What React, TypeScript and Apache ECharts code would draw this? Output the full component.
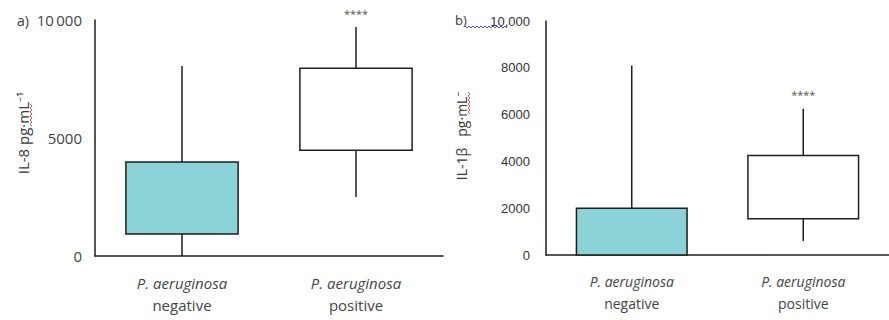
import React, { useEffect, useRef } from "react";
import * as echarts from "echarts";

const categories = ["negative", "positive"];
// [min, Q1, Q3, max]
const il8Box = [
  [0, 930, 3980, 8050],
  [2500, 4480, 7960, 9700],
];
const il1bBox = [
  [0, 0, 2000, 8100],
  [600, 1550, 4250, 6250],
];
const stars = ["", "****"];
const boxFills = ["#8bd3d6", "#ffffff"];
const il8Ticks = { min: 0, max: 10000, interval: 5000 };
const il1bTicks = { min: 0, max: 10000, interval: 2000 };

const FONT = "'Open Sans', 'Noto Sans', sans-serif";

function renderItem(params: any, api: any) {
  const c = api.value(0);
  const idx = params.dataIndex;
  const mn = api.coord([c, api.value(1)]);
  const q1 = api.coord([c, api.value(2)]);
  const q3 = api.coord([c, api.value(3)]);
  const mx = api.coord([c, api.value(4)]);
  const w = api.size([1, 0])[0] * 0.645;
  const stroke = { stroke: "#1e1e1e", lineWidth: 1.5 };
  const children: any[] = [
    { type: "line", shape: { x1: mx[0], y1: mx[1], x2: q3[0], y2: q3[1] }, style: stroke },
    { type: "line", shape: { x1: mn[0], y1: mn[1], x2: q1[0], y2: q1[1] }, style: stroke },
    {
      type: "rect",
      shape: { x: q3[0] - w / 2, y: q3[1], width: w, height: q1[1] - q3[1] },
      style: { fill: boxFills[idx], ...stroke },
    },
  ];
  if (stars[idx]) {
    children.push({
      type: "text",
      x: mx[0],
      y: mx[1] - 14,
      style: {
        text: stars[idx],
        fill: "#555",
        font: `11px ${FONT}`,
        textAlign: "center",
        textVerticalAlign: "middle",
      },
    });
  }
  return { type: "group", children };
}

function toData(box: number[][]) {
  return box.map((b, i) => [i, ...b]);
}

function xLabel(size: number, margin: number) {
  return {
    formatter: (v: string) => `{i|P. aeruginosa}\n{n|${v}}`,
    margin,
    color: "#444",
    rich: {
      i: { fontStyle: "italic", fontSize: size, fontFamily: FONT, color: "#444", lineHeight: 22 },
      n: { fontSize: size, fontFamily: FONT, color: "#444", lineHeight: 22 },
    },
  };
}

// spell-check squiggle decoration
function squiggle(x0: number, y0: number, len: number, vertical: boolean) {
  const pts: number[][] = [];
  for (let i = 0; i <= len; i += 2) {
    const off = (i / 2) % 2 === 0 ? 0 : 2;
    pts.push(vertical ? [x0 + off, y0 + i] : [x0 + i, y0 + off]);
  }
  return pts;
}

export default function App() {
  const ref = useRef<HTMLDivElement>(null);
  useEffect(() => {
    if (!ref.current) return;
    const chart = echarts.init(ref.current, null, { renderer: "svg" });
    const axisLine = { lineStyle: { color: "#1e1e1e", width: 1.5 } };
    chart.setOption({
      animation: false,
      backgroundColor: "#ffffff",
      grid: [
        { left: 95, right: 446, top: 20, bottom: 64 },
        { left: 546, right: -2, top: 21, bottom: 65 },
      ],
      xAxis: [0, 1].map((g) => ({
        type: "category",
        gridIndex: g,
        data: categories,
        axisLine,
        axisTick: { alignWithLabel: true, length: 6, lineStyle: { color: "#1e1e1e", width: 1.5 } },
        axisLabel: g === 0 ? xLabel(15, 16) : xLabel(14, 15),
      })),
      yAxis: [
        {
          type: "value",
          gridIndex: 0,
          ...il8Ticks,
          axisLine: { show: true, ...axisLine },
          axisTick: { show: false },
          splitLine: { show: false },
          axisLabel: {
            margin: 13,
            color: "#444",
            fontSize: 15,
            fontFamily: FONT,
            formatter: (v: number) => (v === 10000 ? "10\u2009000" : String(v)),
          },
        },
        {
          type: "value",
          gridIndex: 1,
          ...il1bTicks,
          axisLine: { show: true, ...axisLine },
          axisTick: { show: false },
          splitLine: { show: false },
          axisLabel: {
            margin: 16,
            color: "#333",
            fontSize: 13,
            fontFamily: "'Liberation Sans', Arial, sans-serif",
            formatter: (v: number) => (v === 10000 ? "10,000" : String(v)),
          },
        },
      ],
      series: [
        {
          type: "custom",
          xAxisIndex: 0,
          yAxisIndex: 0,
          renderItem,
          clip: false,
          encode: { x: 0, y: [1, 2, 3, 4] },
          data: toData(il8Box),
        },
        {
          type: "custom",
          xAxisIndex: 1,
          yAxisIndex: 1,
          renderItem,
          clip: false,
          encode: { x: 0, y: [1, 2, 3, 4] },
          data: toData(il1bBox),
        },
      ],
      graphic: [
        {
          type: "text",
          x: 17,
          y: 20,
          style: { text: "a)", fill: "#3a3a3a", font: `14px ${FONT}`, textVerticalAlign: "middle" },
        },
        {
          type: "text",
          x: 455,
          y: 20,
          style: { text: "b)", fill: "#3a3a3a", font: `13px ${FONT}`, textVerticalAlign: "middle" },
        },
        {
          type: "text",
          x: 23,
          y: 133,
          rotation: Math.PI / 2,
          style: {
            text: "IL-8 pg·mL\u207B\u00B9",
            fill: "#3a3a3a",
            font: `15px ${FONT}`,
            textAlign: "center",
            textVerticalAlign: "middle",
          },
        },
        {
          type: "text",
          x: 461,
          y: 136,
          rotation: Math.PI / 2,
          style: {
            text: "IL-1β   pg·mL\u207B",
            fill: "#3a3a3a",
            font: `14px ${FONT}`,
            textAlign: "center",
            textVerticalAlign: "middle",
          },
        },
        {
          type: "polyline",
          shape: { points: squiggle(30, 104, 22, true) },
          style: { stroke: "#d9534f", lineWidth: 1, fill: null },
        },
        {
          type: "polyline",
          shape: { points: squiggle(468, 92, 22, true) },
          style: { stroke: "#d9534f", lineWidth: 1, fill: null },
        },
        {
          type: "polyline",
          shape: { points: squiggle(465, 26, 42, false) },
          style: { stroke: "#4a55c8", lineWidth: 1, fill: null },
        },
      ],
    });
    return () => chart.dispose();
  }, []);
  return <div ref={ref} style={{ width: 889, height: 320, position: "absolute", left: 0, top: 0 }} />;
}
